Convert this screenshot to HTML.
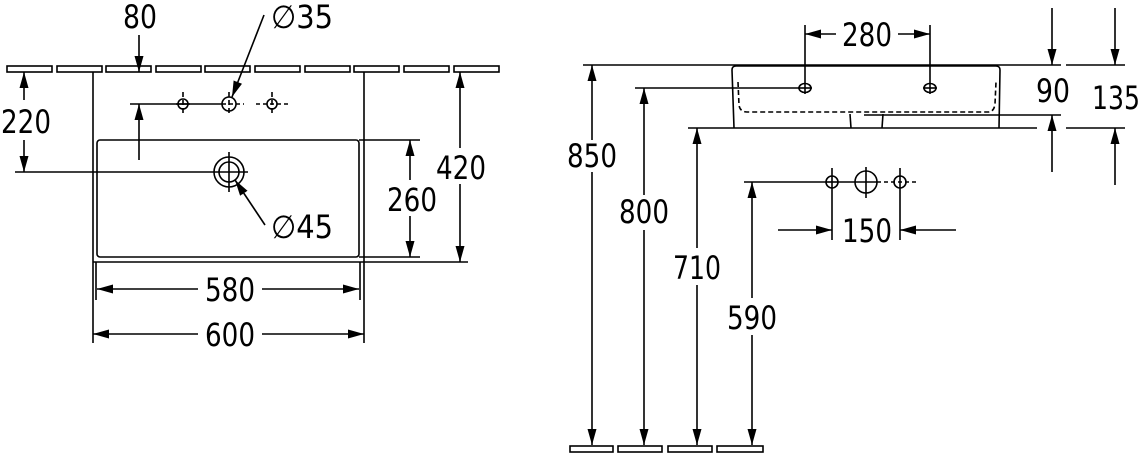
<!DOCTYPE html>
<html><head><meta charset="utf-8"><style>
html,body{margin:0;padding:0;background:#fff;}
svg{display:block}
text{font-family:"DejaVu Sans","Liberation Sans",sans-serif;font-size:32px;fill:#000;}
</style></head><body>
<svg width="1140" height="458" viewBox="0 0 1140 458" xmlns="http://www.w3.org/2000/svg">
<defs>
<marker id="a" viewBox="0 0 16 9" refX="16" refY="4.5" markerWidth="16" markerHeight="9" markerUnits="userSpaceOnUse" orient="auto"><path d="M0,0 L16,4.5 L0,9z" fill="#000"/></marker>
</defs>
<g stroke="#000" stroke-width="1.6" fill="none">
<g fill="#fff">
<rect x="7" y="66" width="45" height="6"/><rect x="57" y="66" width="45" height="6"/><rect x="106" y="66" width="45" height="6"/><rect x="156" y="66" width="45" height="6"/><rect x="205" y="66" width="45" height="6"/><rect x="255" y="66" width="45" height="6"/><rect x="305" y="66" width="45" height="6"/><rect x="354" y="66" width="45" height="6"/><rect x="404" y="66" width="45" height="6"/><rect x="454" y="66" width="45" height="6"/>
</g>
<line x1="93" y1="72" x2="93" y2="343"/><line x1="364" y1="72" x2="364" y2="343"/>
<line x1="96" y1="262" x2="96" y2="300"/><line x1="360" y1="262" x2="360" y2="300"/>
<rect x="97" y="140" width="262" height="117" rx="3"/>
<line x1="93" y1="262" x2="468" y2="262"/>
<line x1="359" y1="140" x2="420" y2="140"/>
<line x1="359" y1="257" x2="420" y2="257"/>
<line x1="130" y1="104" x2="222" y2="104"/>
<circle cx="229" cy="104" r="7"/><line x1="222" y1="104" x2="244" y2="104" stroke-dasharray="4 3"/><line x1="229" y1="92" x2="229" y2="116" stroke-dasharray="5 3"/>
<circle cx="183" cy="104" r="5"/><line x1="176" y1="104" x2="190" y2="104"/><line x1="183" y1="92" x2="183" y2="116" stroke-dasharray="5 3"/>
<circle cx="272" cy="104" r="5"/><line x1="256" y1="104" x2="288" y2="104" stroke-dasharray="4 3"/><line x1="272" y1="92" x2="272" y2="116" stroke-dasharray="5 3"/>
<circle cx="229" cy="172" r="15"/><circle cx="229" cy="172" r="10"/>
<line x1="15" y1="172" x2="248" y2="172"/><line x1="229" y1="152" x2="229" y2="192"/>
<line x1="139" y1="35" x2="139" y2="72" marker-end="url(#a)"/>
<line x1="139" y1="160" x2="139" y2="104" marker-end="url(#a)"/>
<line x1="24" y1="100" x2="24" y2="72" marker-end="url(#a)"/>
<line x1="24" y1="140" x2="24" y2="172" marker-end="url(#a)"/>
<line x1="264" y1="15" x2="232" y2="97" marker-end="url(#a)"/>
<line x1="265" y1="225" x2="235" y2="180" marker-end="url(#a)"/>
<line x1="410" y1="180" x2="410" y2="140" marker-end="url(#a)"/>
<line x1="410" y1="216" x2="410" y2="257" marker-end="url(#a)"/>
<line x1="460" y1="148" x2="460" y2="72" marker-end="url(#a)"/>
<line x1="460" y1="184" x2="460" y2="262" marker-end="url(#a)"/>
<line x1="198" y1="289" x2="97" y2="289" marker-end="url(#a)"/>
<line x1="262" y1="289" x2="359" y2="289" marker-end="url(#a)"/>
<line x1="198" y1="334" x2="93" y2="334" marker-end="url(#a)"/>
<line x1="262" y1="334" x2="364" y2="334" marker-end="url(#a)"/>

<line x1="583" y1="65" x2="1061" y2="65"/>
<line x1="1066" y1="65" x2="1125" y2="65"/>
<line x1="688" y1="128" x2="1037" y2="128"/>
<line x1="1066" y1="128" x2="1125" y2="128"/>
<line x1="864" y1="115" x2="1061" y2="115"/>
<path d="M734,128 L732,70 Q732,66 736,66 L996,66 Q1000,66 1000,70 L999,128"/>
<path d="M738,82 L739,105 Q740,112 747,112 L988,112 Q994,112 995,104 L996,82" stroke-dasharray="5 3"/>
<line x1="850" y1="114" x2="851" y2="128"/><line x1="883" y1="114" x2="882" y2="128"/>
<ellipse cx="805" cy="88" rx="6" ry="4.5"/><line x1="798" y1="88" x2="812" y2="88"/>
<ellipse cx="930" cy="88" rx="6" ry="4.5"/><line x1="923" y1="88" x2="937" y2="88"/>
<line x1="805" y1="25" x2="805" y2="94"/><line x1="930" y1="25" x2="930" y2="94"/>
<line x1="836" y1="34" x2="805" y2="34" marker-end="url(#a)"/>
<line x1="898" y1="34" x2="930" y2="34" marker-end="url(#a)"/>
<line x1="1052" y1="8" x2="1052" y2="65" marker-end="url(#a)"/>
<line x1="1052" y1="172" x2="1052" y2="115" marker-end="url(#a)"/>
<line x1="1115" y1="8" x2="1115" y2="65" marker-end="url(#a)"/>
<line x1="1115" y1="185" x2="1115" y2="128" marker-end="url(#a)"/>
<line x1="592" y1="140" x2="592" y2="65" marker-end="url(#a)"/>
<line x1="592" y1="172" x2="592" y2="445" marker-end="url(#a)"/>
<line x1="635" y1="88" x2="799" y2="88"/>
<line x1="644" y1="195" x2="644" y2="88" marker-end="url(#a)"/>
<line x1="644" y1="230" x2="644" y2="445" marker-end="url(#a)"/>
<line x1="697" y1="248" x2="697" y2="128" marker-end="url(#a)"/>
<line x1="697" y1="285" x2="697" y2="445" marker-end="url(#a)"/>
<line x1="744" y1="182" x2="826" y2="182"/>
<line x1="752" y1="298" x2="752" y2="182" marker-end="url(#a)"/>
<line x1="752" y1="335" x2="752" y2="445" marker-end="url(#a)"/>
<circle cx="832" cy="182" r="6"/><line x1="826" y1="182" x2="838" y2="182"/>
<circle cx="866" cy="182" r="11"/><line x1="838" y1="182" x2="877" y2="182"/><line x1="866" y1="167" x2="866" y2="198"/>
<circle cx="900" cy="182" r="6"/><line x1="877" y1="182" x2="918" y2="182" stroke-dasharray="4 3"/>
<line x1="832" y1="168" x2="832" y2="240"/><line x1="900" y1="168" x2="900" y2="240"/>
<line x1="778" y1="230" x2="832" y2="230" marker-end="url(#a)"/>
<line x1="956" y1="230" x2="900" y2="230" marker-end="url(#a)"/>
<g fill="#fff">
<rect x="570" y="446" width="43" height="6"/><rect x="618" y="446" width="44" height="6"/><rect x="668" y="446" width="44" height="6"/><rect x="717" y="446" width="46" height="6"/>
</g>
</g>
<g>
<text x="123" y="28" textLength="34" lengthAdjust="spacingAndGlyphs">80</text>
<text x="271" y="28" textLength="62" lengthAdjust="spacingAndGlyphs">∅35</text>
<text x="271" y="238" textLength="62" lengthAdjust="spacingAndGlyphs">∅45</text>
<text x="1" y="133" textLength="50" lengthAdjust="spacingAndGlyphs">220</text>
<text x="387" y="211" textLength="50" lengthAdjust="spacingAndGlyphs">260</text>
<text x="436" y="179" textLength="50" lengthAdjust="spacingAndGlyphs">420</text>
<text x="205" y="301" textLength="50" lengthAdjust="spacingAndGlyphs">580</text>
<text x="205" y="346" textLength="50" lengthAdjust="spacingAndGlyphs">600</text>
<text x="842" y="46" textLength="50" lengthAdjust="spacingAndGlyphs">280</text>
<text x="1036" y="102" textLength="34" lengthAdjust="spacingAndGlyphs">90</text>
<text x="1092" y="109" textLength="48" lengthAdjust="spacingAndGlyphs">135</text>
<text x="567" y="167" textLength="50" lengthAdjust="spacingAndGlyphs">850</text>
<text x="619" y="223" textLength="50" lengthAdjust="spacingAndGlyphs">800</text>
<text x="673" y="279" textLength="48" lengthAdjust="spacingAndGlyphs">710</text>
<text x="727" y="329" textLength="50" lengthAdjust="spacingAndGlyphs">590</text>
<text x="842" y="242" textLength="50" lengthAdjust="spacingAndGlyphs">150</text>
</g>
</svg>
</body></html>
